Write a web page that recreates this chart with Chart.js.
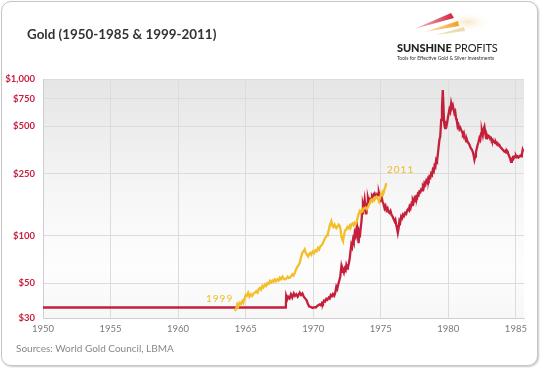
<!DOCTYPE html>
<html><head><meta charset="utf-8">
<script src="https://cdn.jsdelivr.net/npm/chart.js@4.4.1/dist/chart.umd.min.js"></script>
<style>
html,body{margin:0;padding:0;background:#fff;width:540px;height:368px;overflow:hidden;font-family:Lato,"Open Sans",sans-serif;}
.card{position:absolute;left:1px;top:1px;width:535px;height:363px;border:1px solid #c6c6c6;border-radius:10px;box-shadow:1px 1px 2px rgba(0,0,0,.22);background:#fff;}
#wrap{position:absolute;left:0;top:0;width:540px;height:368px;}
.t{position:absolute;white-space:nowrap;}
</style></head><body>
<div class="card"></div>
<div id="wrap"><canvas id="c" width="540" height="368"></canvas></div>
<div class="t" id="title" style="left:27px;top:26px;font-size:13.4px;font-weight:700;color:#333;">Gold (1950-1985 &amp; 1999-2011)</div>
<svg class="t" style="left:0;top:0" width="540" height="80">
  <defs>
    <radialGradient id="glow" cx="0.5" cy="0.5" r="0.5"><stop offset="0" stop-color="#f6e6c0" stop-opacity="0.9"/><stop offset="1" stop-color="#fff" stop-opacity="0"/></radialGradient>
    <linearGradient id="gr" x1="0" x2="1"><stop offset="0" stop-color="#d4213d" stop-opacity="0.25"/><stop offset="1" stop-color="#d4213d"/></linearGradient>
    <linearGradient id="go" x1="0" x2="1"><stop offset="0" stop-color="#f0a020" stop-opacity="0.25"/><stop offset="1" stop-color="#f0a020"/></linearGradient>
  </defs>
  <ellipse cx="468" cy="22" rx="24" ry="10" fill="url(#glow)"/>
  <polygon points="414,29 451,13 454,18" fill="url(#gr)"/>
  <polygon points="424,32 458,21 459,26" fill="url(#go)"/>
  <polygon points="436,35 464,27 465,31" fill="#e6d3a0" opacity="0.8"/>
</svg>
<div class="t" style="left:397px;top:41px;font-size:11px;color:#222;letter-spacing:-0.1px;"><b style="font-weight:900">SUNSHINE</b> PROFITS</div>
<div class="t" style="left:397px;top:55px;font-size:5px;color:#333;">Tools for Effective Gold &amp; Silver Investments</div>
<div class="t" style="left:16px;top:342px;font-size:10px;color:#888;">Sources: World Gold Council, LBMA</div>
<div class="t" style="left:206px;top:292px;font-size:10px;color:#f0bb22;letter-spacing:1px;">1999</div>
<div class="t" style="left:387px;top:163px;font-size:10px;color:#f0bb22;letter-spacing:1px;">2011</div>
<script>
const xTicks = [1950, 1955, 1960, 1965, 1970, 1975, 1980, 1985];
const yTicks = [30, 50, 100, 250, 500, 750, 1000];

const redYears = [1950.0,1967.97,1968.0,1968.08,1968.15,1968.25,1968.35,1968.45,1968.56,1968.65,1968.75,1968.85,1969.0,1969.1,1969.2,1969.3,1969.4,1969.5,1969.6,1969.7,1969.8,1969.96,1970.1,1970.2,1970.3,1970.4,1970.48,1970.56,1970.65,1970.72,1970.8,1970.88,1970.97,1971.05,1971.15,1971.22,1971.3,1971.38,1971.46,1971.55,1971.62,1971.71,1971.78,1971.85,1971.93,1972.0,1972.08,1972.15,1972.2,1972.27,1972.33,1972.4,1972.45,1972.52,1972.57,1972.64,1972.7,1972.76,1972.82,1972.88,1972.95,1973.0,1973.07,1973.14,1973.2,1973.24,1973.3,1973.36,1973.41,1973.45,1973.5,1973.56,1973.62,1973.68,1973.74,1973.81,1973.87,1973.93,1973.99,1974.05,1974.12,1974.2,1974.28,1974.35,1974.42,1974.48,1974.54,1974.6,1974.67,1974.74,1974.8,1974.86,1974.92,1975.0,1975.07,1975.14,1975.2,1975.28,1975.35,1975.42,1975.5,1975.57,1975.65,1975.72,1975.8,1975.88,1975.95,1976.02,1976.08,1976.14,1976.2,1976.26,1976.32,1976.38,1976.44,1976.51,1976.58,1976.65,1976.72,1976.8,1976.88,1976.95,1977.02,1977.08,1977.13,1977.2,1977.27,1977.32,1977.37,1977.44,1977.5,1977.56,1977.62,1977.68,1977.74,1977.8,1977.86,1977.93,1978.0,1978.06,1978.12,1978.18,1978.23,1978.3,1978.37,1978.43,1978.5,1978.55,1978.6,1978.67,1978.73,1978.79,1978.85,1978.92,1978.98,1979.04,1979.1,1979.16,1979.22,1979.28,1979.34,1979.4,1979.47,1979.53,1979.59,1979.63,1979.68,1979.72,1979.76,1979.82,1979.88,1979.96,1980.02,1980.08,1980.14,1980.21,1980.27,1980.33,1980.39,1980.45,1980.51,1980.57,1980.63,1980.69,1980.75,1980.82,1980.88,1980.95,1981.02,1981.08,1981.14,1981.19,1981.26,1981.32,1981.38,1981.44,1981.5,1981.56,1981.62,1981.68,1981.74,1981.8,1981.86,1981.93,1981.98,1982.04,1982.1,1982.17,1982.23,1982.3,1982.36,1982.42,1982.48,1982.55,1982.61,1982.67,1982.72,1982.79,1982.85,1982.91,1982.97,1983.04,1983.1,1983.16,1983.22,1983.28,1983.34,1983.4,1983.46,1983.52,1983.58,1983.64,1983.7,1983.77,1983.84,1983.9,1983.96,1984.02,1984.08,1984.14,1984.2,1984.27,1984.33,1984.39,1984.45,1984.52,1984.58,1984.64,1984.7,1984.76,1984.82,1984.88,1984.94,1985.0,1985.06,1985.12,1985.19,1985.25,1985.32,1985.38,1985.44,1985.5,1985.55];
const redValues = [35,35,41.5,39.5,41,40,42.5,40.5,43,41.5,42.5,41,43.5,42,43,41,40,39,37,35.5,35.3,34.8,35.2,35,35.8,36.3,36.6,36.2,37.5,37,38.7,38.2,39.7,39.2,40.5,40,42,41.3,42.6,41.5,43,47.5,46,49,52,55,63.5,59,61,58.5,62,60.5,65,62,63.5,67,72,80,88,85,95,92,104.6,100,112,115,100,90,102,98,110,121,140,158,150,170,155,137,160,175,165,172,168,180,176,184,187,182,178,185,183,189,180,170,175,165,160,150,155,146,150,142,140,144,136,133,128,124,127,118,112,104.6,112,125,122,133,130,137,134,140,138,145,148,146,154,150,160,157,170,165,174,170,178,176,185,182,192,190,198,195,208,204,217,212,225,220,232,228,239,235,250,246,264,258,280,275,306,300,330,370,410,430,548,650,851,700,540,500,486,520,510,560,600,640,620,700,660,680,640,605,620,560,540,497,510,480,490,474,460,445,455,430,420,400,410,395,390,381,370,360,355,345,330,306,320,340,360,381,395,420,410,450,470,440,480,497,460,420,440,425,435,430,415,420,405,410,398,400,390,395,385,390,378,381,370,365,360,355,350,345,348,340,350,345,330,320,310,297,305,315,310,320,318,325,318,322,316,320,325,322,330,354,345];

const yellowYears = [1964.21,1964.3,1964.38,1964.45,1964.55,1964.65,1964.75,1964.82,1964.9,1965.0,1965.08,1965.18,1965.28,1965.38,1965.48,1965.58,1965.68,1965.78,1965.88,1965.96,1966.05,1966.14,1966.24,1966.32,1966.42,1966.52,1966.6,1966.7,1966.79,1966.88,1966.98,1967.07,1967.16,1967.25,1967.35,1967.44,1967.53,1967.62,1967.72,1967.8,1967.9,1968.0,1968.1,1968.18,1968.27,1968.36,1968.45,1968.54,1968.63,1968.72,1968.8,1968.9,1969.0,1969.08,1969.15,1969.22,1969.3,1969.37,1969.45,1969.53,1969.62,1969.7,1969.78,1969.86,1969.94,1969.99,1970.08,1970.17,1970.26,1970.35,1970.44,1970.53,1970.62,1970.72,1970.8,1970.88,1970.96,1971.02,1971.09,1971.16,1971.24,1971.3,1971.34,1971.42,1971.5,1971.58,1971.65,1971.71,1971.8,1971.88,1971.96,1972.02,1972.08,1972.14,1972.2,1972.27,1972.35,1972.45,1972.53,1972.62,1972.7,1972.76,1972.82,1972.9,1972.98,1973.05,1973.12,1973.19,1973.26,1973.34,1973.43,1973.5,1973.58,1973.65,1973.72,1973.8,1973.88,1973.96,1974.05,1974.12,1974.2,1974.25,1974.3,1974.38,1974.46,1974.52,1974.6,1974.67,1974.74,1974.8,1974.86,1974.91,1974.97,1975.03,1975.1,1975.15,1975.22,1975.28,1975.34,1975.41];
const yellowValues = [33.2,34.5,36.6,35.5,37.5,36.8,38.4,37.5,39.5,42,41.5,43.5,41,42.5,41.5,43,43.5,44.5,43.5,45.5,46.6,45.5,48,47,49,48,50,49.5,51.6,50.5,52,51,52.8,51.5,53,52,54.2,53,55,53.5,52.8,53.5,55,54,54.2,55.5,57,56,58,61,63,65,67.4,72,76,79,80,82,78,76,74,77,78,76,79,80,78,81,80,83.8,82,86,87,90,94,97,99,101,104.6,110,118,121,124,116,114,118,114,112,115,118,116,110,100,95,92.7,100,108,110,114,112,116,113,118,120,117,121,119,121,128,136,143.5,140,146,144,150,150,152,148,152,158,162,168,170,166,172,169,175,178,174,172,168,170,178,185,182,192,190,200,205,217];

const toPts = (xs, ys) => xs.map((x, i) => ({x: x, y: ys[i]}));

const bgPlugin = {
  id: 'bg',
  beforeDraw(chart) {
    const {ctx, chartArea: a} = chart;
    const g = ctx.createLinearGradient(0, a.top, 0, a.bottom);
    g.addColorStop(0, '#e5e5e5');
    g.addColorStop(0.5, '#f7f7f7');
    g.addColorStop(0.8, '#fdfdfd');
    g.addColorStop(1, '#f7f7f7');
    ctx.save();
    ctx.fillStyle = g;
    ctx.fillRect(a.left, a.top, a.right - a.left, a.bottom - a.top);
    ctx.restore();
  }
};

new Chart(document.getElementById('c'), {
  type: 'line',
  data: {
    datasets: [
      {label: '1950-1985', data: toPts(redYears, redValues), borderColor: '#c41f3b', borderWidth: 2.3, pointRadius: 0, tension: 0, order: 2},
      {label: '1999-2011', data: toPts(yellowYears, yellowValues), borderColor: '#f3be27', borderWidth: 2.3, pointRadius: 0, tension: 0, order: 1}
    ]
  },
  options: {
    responsive: false,
    animation: false,
    events: [],
    layout: {padding: {left: 0, top: 79, right: 16, bottom: 30}},
    plugins: {legend: {display: false}, tooltip: {enabled: false}, title: {display: false}},
    scales: {
      x: {
        type: 'linear', min: 1950, max: 1985.6,
        afterFit(s) { s.height = 20; },
        afterBuildTicks(s) { s.ticks = xTicks.map(v => ({value: v})); },
        ticks: {includeBounds: false, padding: 5, color: '#7a7a7a', font: {family: 'Lato', size: 9.5}, callback: v => String(v), maxRotation: 0, autoSkip: false},
        grid: {color: '#dcdcdc', lineWidth: 1, drawTicks: false},
        border: {color: '#cfcfcf'}
      },
      y: {
        type: 'logarithmic', min: 30, max: 1000,
        afterFit(s) { s.width = 43; },
        afterBuildTicks(s) { s.ticks = yTicks.map(v => ({value: v})); },
        ticks: {padding: 8, color: '#c8203f', font: {family: 'Lato', size: 9.5, weight: 'bold'}, callback: v => '$' + (v >= 1000 ? '1,000' : String(v)), autoSkip: false},
        grid: {color: '#dcdcdc', lineWidth: 1, drawTicks: false},
        border: {color: '#cfcfcf'}
      }
    }
  },
  plugins: [bgPlugin]
});
</script>
</body></html>
